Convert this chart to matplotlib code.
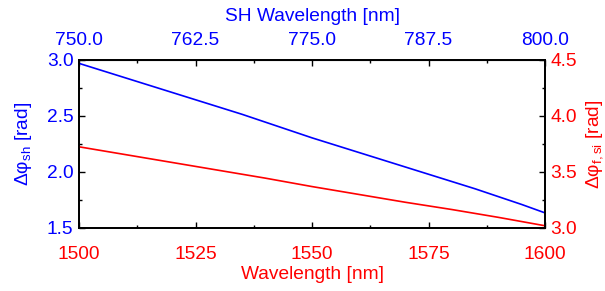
import matplotlib.pyplot as plt
from matplotlib.ticker import MultipleLocator, FormatStrFormatter, FixedLocator

plt.rcParams['font.family'] = ['Liberation Sans', 'DejaVu Sans']
plt.rcParams['mathtext.fontset'] = 'custom'
plt.rcParams['mathtext.rm'] = 'Liberation Sans'
plt.rcParams['mathtext.it'] = 'Liberation Sans:italic'

# data
wl = [1500, 1505, 1510, 1515, 1520, 1525, 1530, 1535, 1540, 1545, 1550,
      1555, 1560, 1565, 1570, 1575, 1580, 1585, 1590, 1595, 1600]
dphi_sh = [2.97, 2.905, 2.84, 2.775, 2.71, 2.645, 2.58, 2.515, 2.445, 2.375, 2.305,
           2.24, 2.175, 2.11, 2.045, 1.98, 1.915, 1.85, 1.78, 1.71, 1.635]
wl_r = [1500, 1510, 1520, 1530, 1540, 1550, 1560, 1570, 1580, 1590, 1600]
dphi_fsi = [3.725, 3.655, 3.585, 3.515, 3.445, 3.37, 3.30, 3.23, 3.165, 3.095, 3.02]
sh_ticks = [750.0, 762.5, 775.0, 787.5, 800.0]

FS = 13.8
BLUE = '#0000ff'
RED = '#ff0000'

fig = plt.figure(figsize=(6.05, 2.91), dpi=100)
ax = fig.add_axes([79 / 605, 1 - 228 / 291, 466 / 605, 168 / 291])
ax2 = ax.twinx()

ax.plot(wl, dphi_sh, color=BLUE, lw=1.2)
ax2.plot(wl_r, dphi_fsi, color=RED, lw=1.2)

ax.set_xlim(1500, 1600)
ax.set_ylim(1.5, 3.0)
ax2.set_ylim(3.0, 4.5)

ax.xaxis.set_major_locator(MultipleLocator(25))
ax.xaxis.set_minor_locator(MultipleLocator(12.5))
ax.yaxis.set_major_locator(MultipleLocator(0.5))
ax.yaxis.set_minor_locator(MultipleLocator(0.25))
ax.yaxis.set_major_formatter(FormatStrFormatter('%.1f'))
ax2.yaxis.set_major_locator(MultipleLocator(0.5))
ax2.yaxis.set_minor_locator(MultipleLocator(0.25))
ax2.yaxis.set_major_formatter(FormatStrFormatter('%.1f'))

top = ax.secondary_xaxis('top', functions=(lambda x: x / 2, lambda x: x * 2))
top.xaxis.set_major_locator(FixedLocator(sh_ticks))
top.xaxis.set_minor_locator(MultipleLocator(6.25))
top.xaxis.set_major_formatter(FormatStrFormatter('%.1f'))

for a in (ax, ax2):
    for s in a.spines.values():
        s.set_linewidth(1.3)
        s.set_color('black')

ax.tick_params(axis='x', which='both', direction='in', pad=13, labelsize=FS, labelcolor=RED)
ax.tick_params(axis='x', which='major', length=4, width=1)
ax.tick_params(axis='x', which='minor', length=2.5, width=1)
ax.tick_params(axis='y', which='both', direction='in', pad=4, labelsize=FS, labelcolor=BLUE)
ax.tick_params(axis='y', which='major', length=4, width=1)
ax.tick_params(axis='y', which='minor', length=2.5, width=1)
ax2.tick_params(axis='y', which='both', direction='in', pad=4, labelsize=FS, labelcolor=RED)
ax2.tick_params(axis='y', which='major', length=4, width=1)
ax2.tick_params(axis='y', which='minor', length=2.5, width=1)
top.tick_params(axis='x', which='both', direction='in', pad=8, labelsize=FS, labelcolor=BLUE)
top.tick_params(axis='x', which='major', length=4, width=1)
top.tick_params(axis='x', which='minor', length=2.5, width=1)

ax.set_xlabel('Wavelength [nm]', color=RED, fontsize=FS, labelpad=2)
top.set_xlabel('SH Wavelength [nm]', color=BLUE, fontsize=FS, labelpad=8)
ax.set_ylabel(r'Δφ$_{\rm sh}$ [rad]', color=BLUE, fontsize=FS, labelpad=9)
ax2.set_ylabel(r'Δφ$_{\rm f,si}$ [rad]', color=RED, fontsize=FS, labelpad=5)

fig.savefig('out.png', dpi=100)
